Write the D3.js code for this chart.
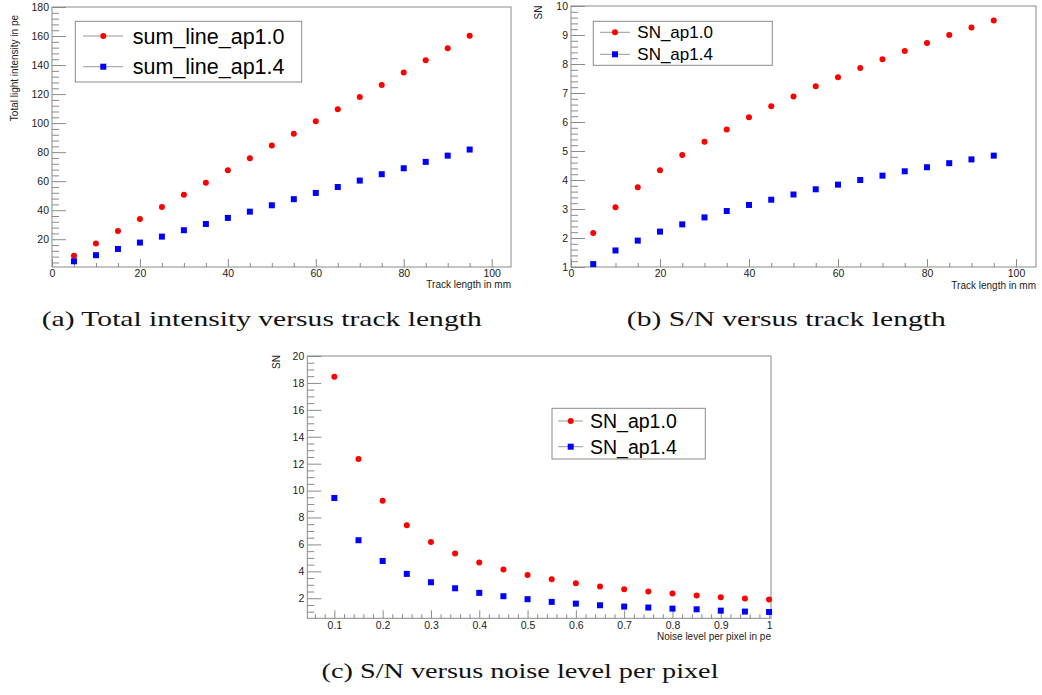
<!DOCTYPE html>
<html>
<head>
<meta charset="utf-8">
<script src="https://cdn.jsdelivr.net/npm/d3@7"></script>
<style>
  html, body { margin: 0; padding: 0; background: #ffffff; }
  svg { display: block; }
</style>
</head>
<body>
<svg id="chart" width="1042" height="695"></svg>
<script>
// ---------------- DATA ----------------
const trackLength = [5, 10, 15, 20, 25, 30, 35, 40, 45, 50, 55, 60, 65, 70, 75, 80, 85, 90, 95];
const sumLineAp10 = [8.7, 17.0, 25.7, 34.0, 42.2, 50.7, 59.0, 67.5, 75.8, 84.5, 92.7, 101.3, 109.6, 118.0, 126.3, 134.8, 143.3, 151.6, 160.2];
const sumLineAp14 = [4.8, 9.0, 13.3, 17.7, 21.8, 26.2, 30.5, 34.7, 39.0, 43.4, 47.6, 51.9, 56.0, 60.4, 64.8, 68.9, 73.3, 77.6, 81.8];

const snTrackAp10 = [2.17, 3.06, 3.75, 4.34, 4.86, 5.32, 5.74, 6.16, 6.54, 6.88, 7.23, 7.54, 7.86, 8.16, 8.45, 8.72, 9.00, 9.26, 9.50];
const snTrackAp14 = [1.10, 1.57, 1.91, 2.22, 2.47, 2.71, 2.93, 3.14, 3.32, 3.50, 3.68, 3.84, 4.00, 4.15, 4.30, 4.44, 4.58, 4.71, 4.84];

const noiseLevel = [0.1, 0.15, 0.2, 0.25, 0.3, 0.35, 0.4, 0.45, 0.5, 0.55, 0.6, 0.65, 0.7, 0.75, 0.8, 0.85, 0.9, 0.95, 1.0];
const snNoiseAp10 = [18.46, 12.35, 9.25, 7.42, 6.18, 5.32, 4.65, 4.13, 3.73, 3.41, 3.11, 2.87, 2.67, 2.50, 2.35, 2.20, 2.07, 1.98, 1.90];
const snNoiseAp14 = [9.45, 6.31, 4.77, 3.81, 3.19, 2.74, 2.40, 2.15, 1.93, 1.73, 1.60, 1.48, 1.38, 1.31, 1.23, 1.18, 1.08, 1.01, 0.98];

const xTicksTrack = [0, 20, 40, 60, 80, 100];
const yTicksIntensity = [20, 40, 60, 80, 100, 120, 140, 160, 180];
const yTicksSNTrack = [1, 2, 3, 4, 5, 6, 7, 8, 9, 10];
const xTicksNoise = [0.1, 0.2, 0.3, 0.4, 0.5, 0.6, 0.7, 0.8, 0.9, 1.0];
const yTicksSNNoise = [2, 4, 6, 8, 10, 12, 14, 16, 18, 20];

const legendA = ["sum_line_ap1.0", "sum_line_ap1.4"];
const legendSN = ["SN_ap1.0", "SN_ap1.4"];
const captions = ["(a) Total intensity versus track length", "(b) S/N versus track length", "(c) S/N versus noise level per pixel"];

// ---------------- DRAWING ----------------
const svg = d3.select("#chart");
svg.append("rect").attr("width", 1042).attr("height", 695).attr("fill", "#ffffff");

const FRAME = "#8a8a8a";
const TXT = "#222222";
const SANS = "'Liberation Sans', Arial, Helvetica, sans-serif";
const SERIF = "'Liberation Serif', 'DejaVu Serif', serif";
const RED = "#ff0000", BLUE = "#0000ff";

function range(a, b, step) {
  const out = [];
  const n = Math.round((b - a) / step);
  for (let i = 0; i <= n; i++) out.push(+(a + i * step).toFixed(6));
  return out;
}

function drawMarker(g, shape, cx, cy, color) {
  if (shape === "circle") {
    g.append("circle").attr("cx", cx).attr("cy", cy).attr("r", 3).attr("fill", color);
  } else {
    g.append("rect").attr("x", cx - 3).attr("y", cy - 3).attr("width", 6).attr("height", 6).attr("fill", color);
  }
}

function panel(o) {
  const g = svg.append("g");
  const x = d3.scaleLinear().domain(o.xDomain).range([o.x0, o.x1]);
  const y = d3.scaleLinear().domain(o.yDomain).range([o.y1, o.y0]);

  const xMinor = o.xMinor.filter(v => v >= o.xDomain[0] && v <= o.xDomain[1] && !o.xMajor.some(m => Math.abs(m - v) < 1e-9));
  const yMinor = o.yMinor.filter(v => v >= o.yDomain[0] && v <= o.yDomain[1] && !o.yMajor.some(m => Math.abs(m - v) < 1e-9));

  const gxMinor = g.append("g").attr("transform", `translate(0,${o.y1})`)
    .call(d3.axisBottom(x).tickValues(xMinor).tickSize(-o.xMinorLen).tickFormat(""));
  const gyMinor = g.append("g").attr("transform", `translate(${o.x0},0)`)
    .call(d3.axisLeft(y).tickValues(yMinor).tickSize(-o.yMinorLen).tickFormat(""));

  const gx = g.append("g").attr("transform", `translate(0,${o.y1})`)
    .call(d3.axisBottom(x).tickValues(o.xMajor).tickSize(-o.xMajorLen).tickPadding(3).tickFormat(o.xFmt));
  const gy = g.append("g").attr("transform", `translate(${o.x0},0)`)
    .call(d3.axisLeft(y).tickValues(o.yMajor).tickSize(-o.yMajorLen).tickPadding(3).tickFormat(o.yFmt));

  [gxMinor, gyMinor, gx, gy].forEach(a => {
    a.select(".domain").remove();
    a.selectAll(".tick line").attr("stroke", FRAME).attr("stroke-width", 1);
    a.selectAll(".tick text").attr("fill", TXT).style("font-family", SANS).style("font-size", "10.5px");
  });

  g.append("rect").attr("x", o.x0).attr("y", o.y0).attr("width", o.x1 - o.x0).attr("height", o.y1 - o.y0)
    .attr("fill", "none").attr("stroke", FRAME).attr("stroke-width", 1);

  g.append("text").attr("x", o.x1).attr("y", o.xTitleY).attr("text-anchor", "end")
    .attr("fill", TXT).style("font-family", SANS).style("font-size", "10px").text(o.xTitle);
  g.append("text").attr("transform", `translate(${o.yTitleX},${o.yTitleTop}) rotate(-90)`)
    .attr("text-anchor", "end").attr("fill", TXT).style("font-family", SANS)
    .style("font-size", "10px").text(o.yTitle);

  o.series.forEach(s => {
    const sg = g.append("g");
    s.x.forEach((xv, i) => drawMarker(sg, s.shape, x(xv), y(s.y[i]), s.color));
  });

  const L = o.legend;
  const lg = g.append("g");
  lg.append("rect").attr("x", L.x0).attr("y", L.y0).attr("width", L.x1 - L.x0).attr("height", L.y1 - L.y0)
    .attr("fill", "#ffffff").attr("stroke", FRAME).attr("stroke-width", 1);
  o.series.forEach((s, i) => {
    const cy = L.rows[i];
    lg.append("line").attr("x1", L.lineX0).attr("x2", L.lineX1).attr("y1", cy).attr("y2", cy)
      .attr("stroke", "#999999").attr("stroke-width", 1);
    drawMarker(lg, s.shape, L.markerX, cy, s.color);
    lg.append("text").attr("x", L.textX).attr("y", cy).attr("dy", "0.36em")
      .attr("fill", "#000000").style("font-family", SANS).style("font-size", L.fontSize + "px")
      .text(L.labels[i]);
  });
}

const intFmt = d => String(d);
const decFmt = d => String(+d.toFixed(1));

// (a)
panel({
  x0: 52, x1: 511, y0: 7, y1: 267,
  xDomain: [0, 104.4], yDomain: [0.87, 180],
  xMajor: xTicksTrack, xMinor: range(0, 105, 5),
  yMajor: yTicksIntensity, yMinor: range(0, 180, 4),
  xMajorLen: 8, xMinorLen: 4, yMajorLen: 14, yMinorLen: 7,
  xFmt: intFmt, yFmt: intFmt,
  xTitle: "Track length in mm", xTitleY: 288,
  yTitle: "Total light intensity in pe", yTitleX: 17.5, yTitleTop: 15,
  series: [
    { x: trackLength, y: sumLineAp10, color: RED, shape: "circle" },
    { x: trackLength, y: sumLineAp14, color: BLUE, shape: "square" }
  ],
  legend: { x0: 75.3, x1: 301.7, y0: 21.3, y1: 82, markerX: 103.3, lineX0: 83, lineX1: 123,
            textX: 132.7, rows: [36, 66.7], fontSize: 21.5, labels: legendA }
});

// (b)
panel({
  x0: 571, x1: 1036, y0: 6, y1: 267,
  xDomain: [0, 104.5], yDomain: [1, 10],
  xMajor: xTicksTrack, xMinor: range(0, 105, 5),
  yMajor: yTicksSNTrack, yMinor: range(1, 10, 0.2),
  xMajorLen: 8, xMinorLen: 4, yMajorLen: 14, yMinorLen: 7,
  xFmt: intFmt, yFmt: intFmt,
  xTitle: "Track length in mm", xTitleY: 289,
  yTitle: "SN", yTitleX: 542, yTitleTop: 5.5,
  series: [
    { x: trackLength, y: snTrackAp10, color: RED, shape: "circle" },
    { x: trackLength, y: snTrackAp14, color: BLUE, shape: "square" }
  ],
  legend: { x0: 593.3, x1: 772.3, y0: 21.3, y1: 65.3, markerX: 615, lineX0: 600, lineX1: 630,
            textX: 637.3, rows: [32.3, 54.3], fontSize: 17, labels: legendSN }
});

// (c)
panel({
  x0: 307.3, x1: 771, y0: 356, y1: 618.3,
  xDomain: [0.044, 1.004], yDomain: [0.51, 20],
  xMajor: xTicksNoise, xMinor: range(0.06, 1.0, 0.02),
  yMajor: yTicksSNNoise, yMinor: range(1, 20, 0.5),
  xMajorLen: 8, xMinorLen: 4, yMajorLen: 14, yMinorLen: 7,
  xFmt: decFmt, yFmt: intFmt,
  xTitle: "Noise level per pixel in pe", xTitleY: 640,
  yTitle: "SN", yTitleX: 280, yTitleTop: 355,
  series: [
    { x: noiseLevel, y: snNoiseAp10, color: RED, shape: "circle" },
    { x: noiseLevel, y: snNoiseAp14, color: BLUE, shape: "square" }
  ],
  legend: { x0: 552, x1: 705.3, y0: 408.3, y1: 459, markerX: 570.7, lineX0: 558, lineX1: 583,
            textX: 590, rows: [421, 446.7], fontSize: 19.5, labels: legendSN }
});

// captions
const capPos = [
  { cx: 261.7, y: 326, w: 440 },
  { cx: 786.3, y: 326, w: 319 },
  { cx: 520, y: 677.5, w: 397 }
];
captions.forEach((c, i) => {
  svg.append("text").attr("x", capPos[i].cx).attr("y", capPos[i].y).attr("text-anchor", "middle")
    .attr("fill", "#111111").style("font-family", SERIF).style("font-size", "22px")
    .attr("textLength", capPos[i].w).attr("lengthAdjust", "spacingAndGlyphs")
    .text(c);
});
</script>
</body>
</html>
